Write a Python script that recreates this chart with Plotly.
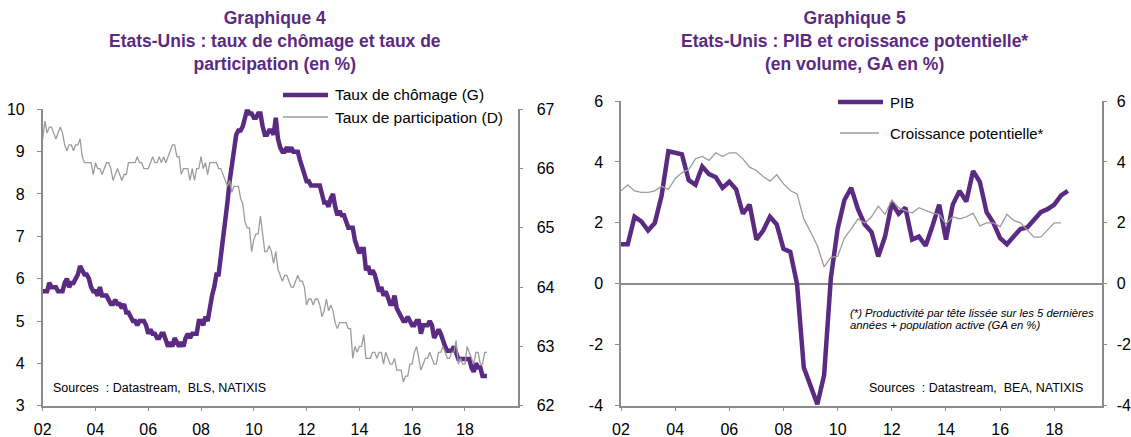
import plotly.graph_objects as go

# ---------------- Data ----------------
# Graphique 4: monthly, Jan 2002 .. Nov 2018
unemp_start_year = 2002
unemployment = [
    5.7, 5.7, 5.7, 5.9, 5.8, 5.8, 5.8, 5.7, 5.7, 5.7, 5.9, 6.0,   # 2002
    5.8, 5.9, 5.9, 6.0, 6.1, 6.3, 6.2, 6.1, 6.1, 6.0, 5.8, 5.7,   # 2003
    5.7, 5.6, 5.8, 5.6, 5.6, 5.6, 5.5, 5.4, 5.4, 5.5, 5.4, 5.4,   # 2004
    5.3, 5.4, 5.2, 5.2, 5.1, 5.0, 5.0, 4.9, 5.0, 5.0, 5.0, 4.9,   # 2005
    4.7, 4.8, 4.7, 4.7, 4.6, 4.6, 4.7, 4.7, 4.5, 4.4, 4.5, 4.4,   # 2006
    4.6, 4.5, 4.4, 4.5, 4.4, 4.6, 4.7, 4.6, 4.7, 4.7, 4.7, 5.0,   # 2007
    5.0, 4.9, 5.1, 5.0, 5.4, 5.6, 5.8, 6.1, 6.1, 6.5, 6.8, 7.3,   # 2008
    7.8, 8.3, 8.7, 9.0, 9.4, 9.5, 9.5, 9.6, 9.8, 10.0, 9.9, 9.9,  # 2009
    9.8, 9.8, 9.9, 9.9, 9.6, 9.4, 9.4, 9.5, 9.5, 9.4, 9.8, 9.3,   # 2010
    9.1, 9.0, 9.0, 9.1, 9.0, 9.1, 9.0, 9.0, 9.0, 8.8, 8.6, 8.5,   # 2011
    8.3, 8.3, 8.2, 8.2, 8.2, 8.2, 8.2, 8.0, 7.8, 7.8, 7.7, 7.9,   # 2012
    8.0, 7.7, 7.5, 7.6, 7.5, 7.5, 7.3, 7.2, 7.2, 7.2, 6.9, 6.7,   # 2013
    6.6, 6.7, 6.7, 6.2, 6.3, 6.1, 6.2, 6.1, 5.9, 5.7, 5.8, 5.6,   # 2014
    5.7, 5.5, 5.4, 5.4, 5.6, 5.3, 5.2, 5.1, 5.0, 5.0, 5.1, 5.0,   # 2015
    4.9, 4.9, 5.0, 5.0, 4.7, 4.9, 4.9, 4.9, 5.0, 4.9, 4.6, 4.7,   # 2016
    4.8, 4.7, 4.5, 4.4, 4.3, 4.3, 4.3, 4.4, 4.2, 4.1, 4.1, 4.1,   # 2017
    4.1, 4.1, 4.1, 3.9, 3.8, 4.0, 3.9, 3.9, 3.7, 3.7, 3.7,        # 2018
]
participation = [
    66.5, 66.8, 66.6, 66.7, 66.7, 66.6, 66.5, 66.6, 66.7, 66.6, 66.4, 66.3,  # 2002
    66.4, 66.4, 66.3, 66.4, 66.4, 66.5, 66.2, 66.1, 66.1, 66.1, 66.1, 65.9,  # 2003
    66.1, 66.0, 66.0, 65.9, 66.0, 66.1, 66.1, 66.0, 65.8, 65.9, 66.0, 65.9,  # 2004
    65.8, 65.9, 65.9, 66.1, 66.1, 66.1, 66.1, 66.2, 66.1, 66.1, 66.0, 66.0,  # 2005
    66.0, 66.1, 66.2, 66.1, 66.1, 66.2, 66.1, 66.2, 66.1, 66.2, 66.3, 66.4,  # 2006
    66.4, 66.2, 66.2, 65.9, 66.0, 66.0, 66.0, 65.8, 66.0, 65.8, 66.0, 66.0,  # 2007
    66.2, 66.0, 66.1, 65.9, 66.1, 66.1, 66.1, 66.1, 66.0, 66.0, 65.9, 65.8,  # 2008
    65.7, 65.8, 65.6, 65.7, 65.7, 65.7, 65.5, 65.4, 65.1, 65.0, 65.0, 64.6,  # 2009
    64.8, 64.9, 64.9, 65.2, 64.9, 64.6, 64.6, 64.7, 64.6, 64.4, 64.6, 64.3,  # 2010
    64.2, 64.1, 64.2, 64.2, 64.1, 64.0, 64.0, 64.1, 64.2, 64.1, 64.1, 64.0,  # 2011
    63.7, 63.8, 63.8, 63.7, 63.8, 63.8, 63.7, 63.5, 63.6, 63.8, 63.6, 63.7,  # 2012
    63.6, 63.4, 63.3, 63.4, 63.4, 63.4, 63.4, 63.3, 63.3, 62.8, 63.0, 62.9,  # 2013
    63.0, 63.0, 63.2, 62.8, 62.8, 62.8, 62.9, 62.9, 62.8, 62.9, 62.9, 62.7,  # 2014
    62.9, 62.8, 62.7, 62.7, 62.8, 62.6, 62.6, 62.6, 62.4, 62.5, 62.5, 62.7,  # 2015
    62.7, 62.9, 63.0, 62.8, 62.6, 62.7, 62.8, 62.8, 62.9, 62.8, 62.7, 62.7,  # 2016
    62.9, 62.9, 63.0, 62.9, 62.8, 62.8, 62.9, 62.9, 63.1, 62.7, 62.8, 62.7,  # 2017
    62.7, 63.0, 62.9, 62.8, 62.7, 62.9, 62.9, 62.7, 62.7, 62.9, 62.9,        # 2018
]

# Graphique 5: quarterly, 2002Q1 ..
gdp = [
    1.3, 1.3, 2.2, 2.05, 1.75, 2.0, 2.9, 4.35, 4.3, 4.25, 3.4, 3.25,       # 2002-2004
    3.85, 3.6, 3.5, 3.15, 3.35, 3.1, 2.3, 2.6, 1.45, 1.75, 2.2, 1.95,      # 2005-2007
    1.15, 1.05, 0.0, -2.75, -3.35, -3.95, -3.0, 0.2, 1.8, 2.75, 3.15, 2.45, # 2008-2010
    1.95, 1.7, 0.9, 1.55, 2.65, 2.3, 2.5, 1.45, 1.55, 1.25, 1.9, 2.6,       # 2011-2013
    1.45, 2.6, 3.05, 2.7, 3.7, 3.35, 2.35, 2.0, 1.5, 1.3, 1.55, 1.8,        # 2014-2016
    1.85, 2.1, 2.35, 2.45, 2.6, 2.9, 3.05,                                  # 2017-2018Q3
]
potential = [
    3.05, 3.25, 3.05, 3.0, 3.0, 3.05, 3.2, 3.1, 3.45, 3.65, 3.75, 4.1,
    4.18, 4.05, 4.3, 4.18, 4.3, 4.3, 4.1, 3.83, 3.72, 3.52, 3.37, 3.58,
    3.28, 3.06, 2.95, 2.13, 1.7, 1.25, 0.56, 0.87, 0.9, 1.5, 1.8, 2.13,
    2.0, 2.2, 2.55, 2.28, 2.75, 2.5, 2.4, 2.32, 2.5, 2.4, 2.32, 2.28,
    1.97, 2.2, 2.13, 2.2, 2.32, 1.9, 2.0, 2.0, 1.88, 2.28, 2.08, 2.0,
    1.75, 1.53, 1.53, 1.75, 2.0, 2.0,
]

tick_years = [2002, 2004, 2006, 2008, 2010, 2012, 2014, 2016, 2018]
tick_labels = ["02", "04", "06", "08", "10", "12", "14", "16", "18"]
g5_tick_vals = [-4, -2, 0, 2, 4, 6]
g5_tick_labels = ["-4", "-2", "0", "2", "4", "6"]

months = [unemp_start_year + i / 12 for i in range(len(unemployment))]
months_p = [unemp_start_year + i / 12 for i in range(len(participation))]
quarters = [2002 + i / 4 for i in range(len(gdp))]
quarters_p = [2002 + i / 4 for i in range(len(potential))]

# ---------------- Styling ----------------
W, H = 1131, 437
PURPLE = "#5b2a82"
GREY = "#9c9c9c"
AXIS = "#8c8c8c"
FONT = "Liberation Sans, Arial, sans-serif"

def px(x):
    return x / W

def py(y):
    return 1 - y / H

fig = go.Figure()
fig.add_trace(go.Scatter(x=months, y=unemployment, mode="lines",
                         line=dict(color=PURPLE, width=4.5), xaxis="x", yaxis="y",
                         name="Taux de chômage (G)"))
fig.add_trace(go.Scatter(x=months_p, y=participation, mode="lines",
                         line=dict(color=GREY, width=1.3), xaxis="x", yaxis="y2",
                         name="Taux de participation (D)"))
fig.add_trace(go.Scatter(x=quarters_p, y=potential, mode="lines",
                         line=dict(color=GREY, width=1.3), xaxis="x2", yaxis="y4",
                         name="Croissance potentielle*"))
fig.add_trace(go.Scatter(x=quarters, y=gdp, mode="lines",
                         line=dict(color=PURPLE, width=4.5), xaxis="x2", yaxis="y3",
                         name="PIB"))

axis_common = dict(showline=True, linecolor=AXIS, linewidth=1.5, ticks="outside",
                   tickcolor=AXIS, ticklen=4, tickwidth=1.2, showgrid=False,
                   zeroline=False, automargin=False,
                   tickfont=dict(family=FONT, size=16, color="black"))

left_dom = [px(42.7), px(517.7)]
right_dom = [px(621), px(1101.7)]

fig.update_layout(
    width=W, height=H,
    margin=dict(l=0, r=0, t=0, b=0, autoexpand=False),
    paper_bgcolor="white", plot_bgcolor="white",
    showlegend=False,
    font=dict(family=FONT, color="black"),
    xaxis=dict(domain=left_dom, range=[2002, 2020], anchor="y",
               tickvals=tick_years, ticktext=tick_labels, ticklabelstandoff=4, **axis_common),
    yaxis=dict(domain=[py(405.7), py(109.3)], range=[3, 10], dtick=1, anchor="x",
               ticklabelstandoff=9, **axis_common),
    yaxis2=dict(range=[62, 67], dtick=1, overlaying="y", side="right", anchor="x",
                ticklabelstandoff=10, **axis_common),
    xaxis2=dict(domain=right_dom, range=[2002, 2019.75], anchor="y3",
                tickvals=tick_years, ticktext=tick_labels, ticklabelstandoff=4, **axis_common),
    yaxis3=dict(domain=[py(405.7), py(101)], range=[-4, 6], anchor="x2",
                tickvals=g5_tick_vals, ticktext=g5_tick_labels, ticklabelstandoff=9,
                **{**axis_common, "zeroline": True, "zerolinecolor": AXIS, "zerolinewidth": 1.5}),
    yaxis4=dict(range=[-4, 6], overlaying="y3", side="right", anchor="x2",
                tickvals=g5_tick_vals, ticktext=g5_tick_labels, ticklabelstandoff=6,
                **axis_common),
)

TITLE_FONT = dict(family=FONT, size=17.5, color=PURPLE)
LEG_FONT = dict(family=FONT, size=15.5, color="black")
LEG_FONT_R = dict(family=FONT, size=15, color="black")
SRC_FONT = dict(family=FONT, size=12.5, color="black")
NOTE_FONT = dict(family=FONT, size=11.3, color="black")
annotations = [
    dict(x=px(275), y=py(41), xref="paper", yref="paper", xanchor="center", yanchor="middle",
         text="<b>Graphique 4<br>Etats-Unis : taux de chômage et taux de<br>participation (en %)</b>",
         showarrow=False, font=TITLE_FONT, align="center"),
    dict(x=px(854), y=py(41), xref="paper", yref="paper", xanchor="center", yanchor="middle",
         text="<b>Graphique 5<br>Etats-Unis : PIB et croissance potentielle*<br>(en volume, GA en %)</b>",
         showarrow=False, font=TITLE_FONT, align="center"),
    dict(x=px(333), y=py(95), xref="paper", yref="paper", xanchor="left", yanchor="middle",
         text="Taux de chômage (G)", showarrow=False, font=LEG_FONT),
    dict(x=px(333), y=py(117), xref="paper", yref="paper", xanchor="left", yanchor="middle",
         text="Taux de participation (D)", showarrow=False, font=LEG_FONT),
    dict(x=px(888), y=py(102), xref="paper", yref="paper", xanchor="left", yanchor="middle",
         text="PIB", showarrow=False, font=LEG_FONT_R),
    dict(x=px(888), y=py(133), xref="paper", yref="paper", xanchor="left", yanchor="middle",
         text="Croissance potentielle*", showarrow=False, font=LEG_FONT_R),
    dict(x=px(51), y=py(388), xref="paper", yref="paper", xanchor="left", yanchor="middle",
         text="Sources  : Datastream,  BLS, NATIXIS", showarrow=False, font=SRC_FONT),
    dict(x=px(867), y=py(388), xref="paper", yref="paper", xanchor="left", yanchor="middle",
         text="Sources  : Datastream,  BEA, NATIXIS", showarrow=False, font=SRC_FONT),
    dict(x=px(848), y=py(313), xref="paper", yref="paper", xanchor="left", yanchor="middle",
         text="<i>(*) Productivité par tête lissée sur les 5 dernières</i>", showarrow=False,
         font=NOTE_FONT),
    dict(x=px(848), y=py(325), xref="paper", yref="paper", xanchor="left", yanchor="middle",
         text="<i>années + population active (GA en %)</i>", showarrow=False,
         font=NOTE_FONT),
]
fig.update_layout(annotations=annotations)

shapes = [
    dict(type="line", xref="paper", yref="paper", x0=px(283), x1=px(328), y0=py(95), y1=py(95),
         line=dict(color=PURPLE, width=4.5)),
    dict(type="line", xref="paper", yref="paper", x0=px(283), x1=px(328), y0=py(117), y1=py(117),
         line=dict(color=GREY, width=1.3)),
    dict(type="line", xref="paper", yref="paper", x0=px(838), x1=px(883), y0=py(102), y1=py(102),
         line=dict(color=PURPLE, width=4.5)),
    dict(type="line", xref="paper", yref="paper", x0=px(840), x1=px(879), y0=py(133), y1=py(133),
         line=dict(color=GREY, width=1.3)),
]
fig.update_layout(shapes=shapes)

fig.write_html(
    "out.html",
    config={"displayModeBar": False},
    post_script="document.body.style.margin='0';document.body.style.overflow='hidden';",
)
